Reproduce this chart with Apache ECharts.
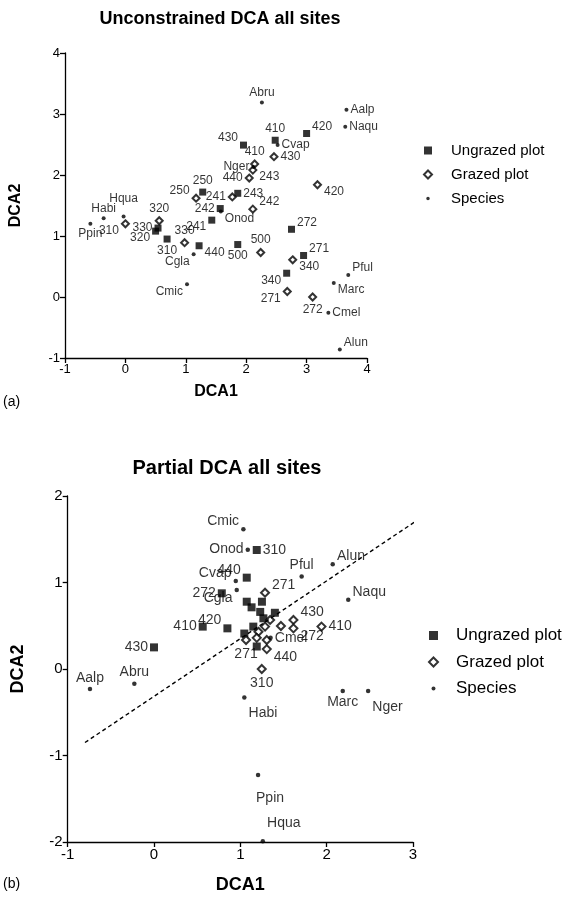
<!DOCTYPE html>
<html>
<head>
<meta charset="utf-8">
<script src="https://cdn.jsdelivr.net/npm/echarts@6/dist/echarts.min.js"></script>
<style>
html,body{margin:0;padding:0;background:#fff;}
#chart{width:580px;height:901px;}
</style>
</head>
<body>
<div id="chart"></div>
<script>
// ---------- Panel (a): Unconstrained DCA ----------
const ungrazedA_x   = [1.955, 2.48, 3.00, 1.28, 1.86, 1.57, 1.43, 1.22, 1.86, 2.75, 2.95, 2.67, 0.50, 0.69, 0.54];
const ungrazedA_y   = [2.49, 2.57, 2.68, 1.72, 1.70, 1.45, 1.26, 0.84, 0.86, 1.11, 0.68, 0.39, 1.08, 0.95, 1.13];
const ungrazedA_lab = ['430','410','420','250','243','242','241','440','500','272','271','340','320','310','330'];
const ungrazedA_pos = ['tl','t','tr','t','r','l','bl','br','b','tr','tr','bl','bl','b','l'];

const grazedA_x   = [2.46, 2.14, 2.11, 2.05, 3.18, 1.77, 1.17, 2.11, 2.24, 2.77, 2.68, 3.10, 0.56, 0.00, 0.98];
const grazedA_y   = [2.30, 2.18, 2.08, 1.95, 1.84, 1.64, 1.62, 1.44, 0.73, 0.61, 0.09, 0.00, 1.25, 1.20, 0.89];
const grazedA_lab = ['430','410','243','440','420','241','250','242','500','340','271','272','320','310','330'];
const grazedA_pos = ['r','t','br','l','br','l','tl','tr','t','br','bl','b','t','bl','t'];

const speciesA_x   = [2.26, 3.66, 3.64, 2.52, 2.12, 1.58, -0.03, -0.36, -0.58, 1.13, 1.02, 3.69, 3.45, 3.36, 3.55];
const speciesA_y   = [3.19, 3.07, 2.79, 2.49, 2.13, 1.40, 1.32, 1.29, 1.20, 0.70, 0.21, 0.36, 0.23, -0.26, -0.86];
const speciesA_lab = ['Abru','Aalp','Naqu','Cvap','Nger','Onod','Hqua','Habi','Ppin','Cgla','Cmic','Pful','Marc','Cmel','Alun'];
const speciesA_pos = ['t','r','r','r','l','br','t2','t','b','bl','bl','tr','br','r','tr'];

// ---------- Panel (b): Partial DCA ----------
const ungrazedB_x   = [1.19, 1.074, 0.785, 0.564, 0.85, 0.00, 1.074, 1.13, 1.25, 1.23, 1.40, 1.267, 1.15, 1.046, 1.19];
const ungrazedB_y   = [1.376, 1.056, 0.875, 0.49, 0.47, 0.25, 0.778, 0.713, 0.778, 0.66, 0.65, 0.586, 0.49, 0.41, 0.26];
const ungrazedB_lab = ['310','440','272','410','420','430','','','','','','','','',''];
const ungrazedB_pos = ['r','tl','l','l','tl','l','','','','','','','','',''];

const grazedB_x   = [1.286, 1.345, 1.286, 1.47, 1.615, 1.615, 1.94, 1.21, 1.306, 1.066, 1.306, 1.248, 1.19];
const grazedB_y   = [0.882, 0.567, 0.49, 0.497, 0.567, 0.47, 0.49, 0.43, 0.335, 0.335, 0.23, 0.00, 0.36];
const grazedB_lab = ['271','','','','430','272','410','','','271','440','310',''];
const grazedB_pos = ['tr','','','','tr','br','r','','','b','br','b',''];

const speciesB_x   = [1.035, 1.086, 2.07, 1.71, 0.947, 0.958, 2.25, 1.35, -0.742, -0.228, 1.046, 2.186, 2.48, 1.205, 1.26];
const speciesB_y   = [1.615, 1.38, 1.21, 1.07, 1.017, 0.913, 0.80, 0.36, -0.23, -0.17, -0.33, -0.254, -0.254, -1.225, -1.99];
const speciesB_lab = ['Cmic','Onod','Alun','Pful','Cvap','Cgla','Naqu','Cmel','Aalp','Abru','Habi','Marc','Nger','Ppin','Hqua'];
const speciesB_pos = ['tl','l','tr','t','tl','bl','tr','r','t','t','br2','b','br2','bfar','tr2'];

const fitLineB_x = [-0.80, 3.08];
const fitLineB_y = [-0.85, 1.74];

const axisTicksA = { xMin: -1, xMax: 4, yMin: -1, yMax: 4 };
const axisTicksB = { xMin: -1, xMax: 3, yMin: -2, yMax: 2 };

// ---------- build ----------
const FONT = 'Liberation Sans, Arial, Helvetica, sans-serif';

function labelFor(code, text, fs) {
  if (!text) return { show: false };
  const base = { show: true, formatter: text, color: '#000', fontSize: fs, fontFamily: FONT, distance: 2 };
  const d = Math.round(fs * 0.6);
  switch (code) {
    case 't': return Object.assign(base, { position: 'top' });
    case 't2': return Object.assign(base, { position: 'top', distance: 10 });
    case 'b': return Object.assign(base, { position: 'bottom' });
    case 'bfar': return Object.assign(base, { position: 'bottom', distance: 14, offset: [12, 0] });
    case 'l': return Object.assign(base, { position: 'left' });
    case 'r': return Object.assign(base, { position: 'right' });
    case 'tr': return Object.assign(base, { position: 'right', offset: [0, -d] });
    case 'tr2': return Object.assign(base, { position: 'right', offset: [0, -18] });
    case 'tl': return Object.assign(base, { position: 'left', offset: [0, -d] });
    case 'br': return Object.assign(base, { position: 'right', offset: [0, d] });
    case 'br2': return Object.assign(base, { position: 'right', offset: [0, 16] });
    case 'bl': return Object.assign(base, { position: 'left', offset: [0, d] });
  }
  return base;
}

function pts(xs, ys, labs, poss, fs) {
  return xs.map((x, i) => ({ value: [x, ys[i]], label: labelFor(poss[i], labs[i], fs) }));
}

function axes(idx, t, fs, nameFs, xGap, yGap) {
  const common = {
    gridIndex: idx, interval: 1,
    axisLine: { show: true, onZero: false, lineStyle: { color: '#000', width: 1.3 } },
    axisTick: { show: true, inside: false, length: 5, lineStyle: { color: '#000', width: 1.3 } },
    axisLabel: { color: '#000', fontSize: fs, fontFamily: FONT, margin: 5 },
    splitLine: { show: false },
    nameLocation: 'middle',
    nameTextStyle: { color: '#000', fontSize: nameFs, fontWeight: 'bold', fontFamily: FONT }
  };
  return {
    x: Object.assign({}, common, { type: 'value', min: t.xMin, max: t.xMax, name: 'DCA1', nameGap: xGap }),
    y: Object.assign({}, common, { type: 'value', min: t.yMin, max: t.yMax, name: 'DCA2', nameGap: yGap, nameRotate: 90 })
  };
}

const axA = axes(0, axisTicksA, 13, 16, 26, 41);
const axB = axes(1, axisTicksB, 15, 18, 34, 41);

const sqStyle = { color: '#000' };
const diaStyle = { color: '#fff', borderColor: '#000', borderWidth: 2 };
const dotStyle = { color: '#000' };

const dotIcon = 'path://M0,0 M10,10 M5,2.8 A2.2,2.2 0 1,1 5,7.2 A2.2,2.2 0 1,1 5,2.8 Z';

function legendFor(left, top, fs, size, gap, pad) {
  return {
    orient: 'vertical', left: left, top: top, itemWidth: size, itemHeight: size, itemGap: gap,
    padding: 0, selectedMode: false,
    textStyle: { color: '#000', fontSize: fs, fontFamily: FONT, padding: [0, 0, 0, pad] },
    data: [
      { name: 'Ungrazed plot', icon: 'rect', itemStyle: sqStyle },
      { name: 'Grazed plot', icon: 'diamond', itemStyle: diaStyle },
      { name: 'Species', icon: dotIcon, itemStyle: dotStyle }
    ]
  };
}

const option = {
  animation: false,
  backgroundColor: '#fff',
  title: [
    { text: 'Unconstrained DCA all sites', left: 215, top: 5, textAlign: 'center',
      textStyle: { fontSize: 18, fontWeight: 'bold', color: '#000', fontFamily: FONT } },
    { text: 'Partial DCA all sites', left: 222, top: 453, textAlign: 'center',
      textStyle: { fontSize: 20, fontWeight: 'bold', color: '#000', fontFamily: FONT } }
  ],
  legend: [ legendFor(423, 143, 15, 8, 9, 14), legendFor(428, 627, 17, 9, 9.5, 13) ],
  grid: [
    { left: 64.5, top: 53, width: 302.5, height: 305 },
    { left: 67.7, top: 496, width: 345.3, height: 346 }
  ],
  xAxis: [axA.x, axB.x],
  yAxis: [axA.y, axB.y],
  graphic: [
    { type: 'text', left: 3, top: 395, style: { text: '(a)', fontSize: 14, fontFamily: FONT, fill: '#000' } },
    { type: 'text', left: 3, top: 877, style: { text: '(b)', fontSize: 14, fontFamily: FONT, fill: '#000' } }
  ],
  series: [
    { name: 'Ungrazed plot', type: 'scatter', xAxisIndex: 0, yAxisIndex: 0, symbol: 'rect', symbolSize: 7,
      itemStyle: sqStyle, data: pts(ungrazedA_x, ungrazedA_y, ungrazedA_lab, ungrazedA_pos, 12) },
    { name: 'Grazed plot', type: 'scatter', xAxisIndex: 0, yAxisIndex: 0, symbol: 'diamond', symbolSize: 7,
      itemStyle: diaStyle, data: pts(grazedA_x, grazedA_y, grazedA_lab, grazedA_pos, 12) },
    { name: 'Species', type: 'scatter', xAxisIndex: 0, yAxisIndex: 0, symbol: 'circle', symbolSize: 4,
      itemStyle: dotStyle, data: pts(speciesA_x, speciesA_y, speciesA_lab, speciesA_pos, 12) },

    { name: 'fit', type: 'line', xAxisIndex: 1, yAxisIndex: 1, symbol: 'none', silent: true,
      lineStyle: { color: '#000', width: 1.4, type: [4, 3] },
      data: fitLineB_x.map((x, i) => [x, fitLineB_y[i]]) },
    { name: 'Ungrazed plot', type: 'scatter', xAxisIndex: 1, yAxisIndex: 1, symbol: 'rect', symbolSize: 8,
      itemStyle: sqStyle, data: pts(ungrazedB_x, ungrazedB_y, ungrazedB_lab, ungrazedB_pos, 14) },
    { name: 'Grazed plot', type: 'scatter', xAxisIndex: 1, yAxisIndex: 1, symbol: 'diamond', symbolSize: 8,
      itemStyle: diaStyle, data: pts(grazedB_x, grazedB_y, grazedB_lab, grazedB_pos, 14) },
    { name: 'Species', type: 'scatter', xAxisIndex: 1, yAxisIndex: 1, symbol: 'circle', symbolSize: 4.5,
      itemStyle: dotStyle, data: pts(speciesB_x, speciesB_y, speciesB_lab, speciesB_pos, 14) }
  ]
};

const chart = echarts.init(document.getElementById('chart'), null, { renderer: 'canvas' });
chart.setOption(option);
</script>
</body>
</html>
